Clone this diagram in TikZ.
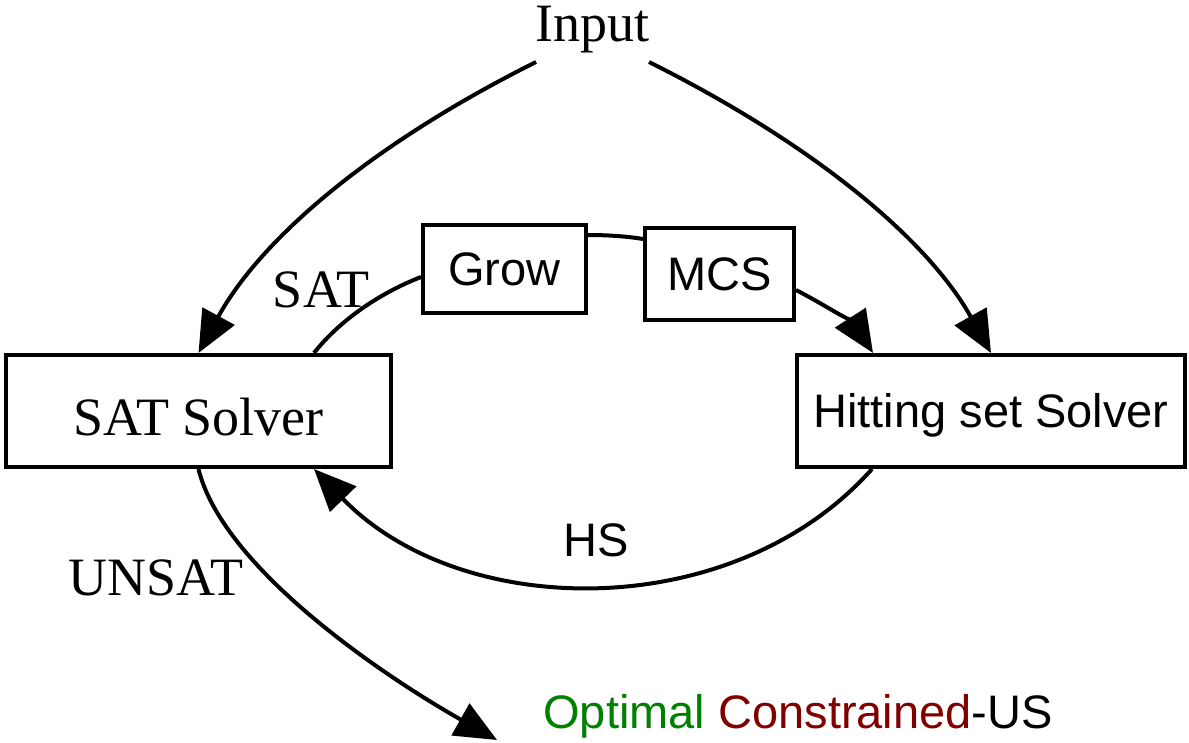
\documentclass[tikz,border=0pt]{standalone}
\usepackage{fontspec}
\setmainfont{Liberation Serif}
\setsansfont{Liberation Sans}
\usetikzlibrary{arrows.meta}
\definecolor{optgreen}{RGB}{0,128,0}
\definecolor{consred}{RGB}{128,0,0}
\begin{document}
\begin{tikzpicture}[x=0.5pt,y=-0.5pt,
  serif/.style={font=\fontsize{27}{30}\selectfont},
  sans/.style={font=\sffamily\fontsize{23.5}{26}\selectfont},
  solver/.style={draw, line width=2pt, inner sep=0pt},
  sansbox/.style={solver, sans, text height=16.8pt, text depth=0pt},
  link/.style={line width=2pt},
  arr/.style={link, -{Triangle[length=21pt,width=18pt]}}]
\useasboundingbox (0,0) rectangle (1189,743);

% boxes
\node (sat) at (198.5,411) [solver, serif, minimum width=192.5pt, minimum height=56pt, text height=24pt, text depth=0pt] {SAT Solver};
\node (hs) at (991,411) [sansbox, minimum width=194pt, minimum height=56pt] {Hitting set Solver};
\node (grow) at (504.5,269) [sansbox, minimum width=81.5pt, minimum height=44pt] {Grow};
\node (mcs) at (719.5,274) [sansbox, minimum width=74.5pt, minimum height=46pt] {MCS};

% labels
\node (in) at (592.5,42) [serif, anchor=base] {Input};
\node (satlbl) at (321,307) [serif, anchor=base] {SAT};
\node (unsat) at (156,595) [serif, anchor=base] {UNSAT};
\node (hslbl) at (596,556) [sans, anchor=base] {HS};
\node (res) at (543,728) [sans, anchor=base west, inner sep=0pt] {\textcolor{optgreen}{Optimal} \textcolor{consred}{Constrained}-US};

\coordinate (inl) at (536,62);
\coordinate (inr) at (649,62);
\coordinate (uend) at (497,740);

\draw[arr] (inl) .. controls (366,147) and (259,242) .. (sat.north);
\draw[arr] (inr) .. controls (819,147) and (929,242) .. (hs.north);
\draw[link] ([xshift=-39.5pt]sat.north east) .. controls (340,320) and (380,293) .. ([yshift=-4pt]grow.west);
\draw[link] ([yshift=-6pt]grow.north east) .. controls (605,235) and (625,236) .. ([yshift=-6.5pt]mcs.north west);
\draw[arr] ([yshift=-8pt]mcs.east) .. controls (825,305) and (855,325) .. ([xshift=39pt]hs.north west);
\draw[arr] ([xshift=38.5pt]hs.south west) .. controls (734,624) and (462,622) .. ([xshift=-39.5pt]sat.south east);
\draw[arr] (sat.south) .. controls (223,569) and (387,678) .. (uend);
\end{tikzpicture}
\end{document}
